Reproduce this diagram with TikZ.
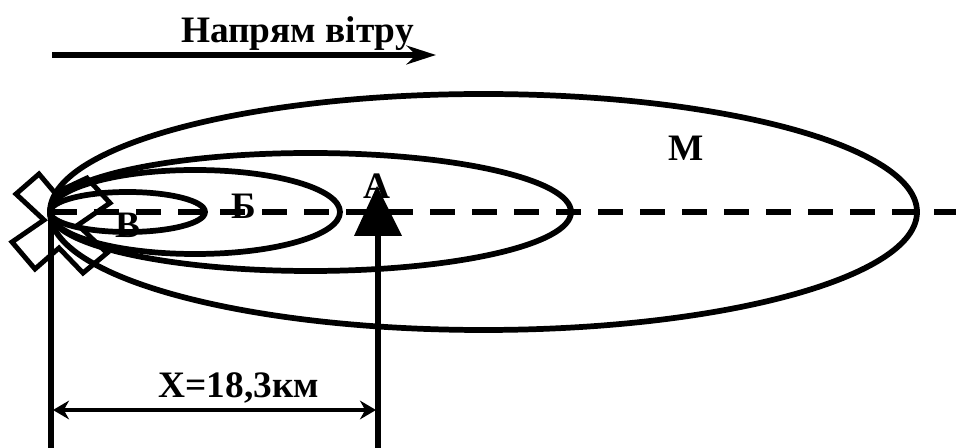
\documentclass[tikz,border=0pt]{standalone}
\usepackage{fontspec}
\setmainfont{Liberation Serif}
\usetikzlibrary{arrows.meta}
\tikzset{
  px/.style={x=0.75pt,y=-0.75pt},
  heavy/.style={line width=4.5pt,black},
  lab/.style={inner sep=0pt,font=\bfseries\fontsize{28}{30}\selectfont},
  cloud/.style={line width=4.3pt,black},
  dashline/.style={line width=4.5pt,dash pattern=on 18.4pt off 13.1pt},
  dim/.style={line width=3.7pt,{Stealth[length=12pt,width=14pt]}-{Stealth[length=12pt,width=14pt]}}
}
\begin{document}
\begin{tikzpicture}[px]
\useasboundingbox (0,0) rectangle (956,448);
% points
\coordinate (windS) at (52,55);
\coordinate (windE) at (436,55);
\coordinate (axisS) at (52,212);
\coordinate (axisE) at (956,212);
\coordinate (srcTop) at (51,212);
\coordinate (srcBot) at (51,448);
\coordinate (triBase) at (378,236);
\coordinate (tgtBot) at (378,448);
\coordinate (dimL) at (53,410);
\coordinate (dimR) at (376,410);
% axis
\draw[dashline] (axisS) -- (axisE);
% zones
\draw[cloud] (483.5,212) ellipse [x radius=433.5,y radius=118];
\draw[cloud] (310.5,212) ellipse [x radius=260.5,y radius=59];
\draw[cloud] (195,212) ellipse [x radius=145,y radius=42];
\draw[cloud] (127.5,212) ellipse [x radius=77.5,y radius=20];
% source cross
\draw[line width=3.7pt,line join=miter] (39,174) -- (55,193) -- (87,178) -- (110,203) -- (78,225) -- (107,253) -- (83,273) -- (59,248) -- (35,269) -- (12,242) -- (44,220) -- (16,194) -- cycle;
% target
\fill[black] (377,186) -- (402,236) -- (354,236) -- cycle;
\draw[heavy] (triBase) -- (tgtBot);
\draw[heavy] (srcTop) -- (srcBot);
\draw[dim] (dimL) -- (dimR);
\draw[line width=4.8pt,-{Stealth[length=22pt,width=14pt,inset=7pt]}] (windS) -- (windE);
% labels
\node[lab,anchor=center] (title) at (297.5,34) {Напрям вітру};
\node[lab,anchor=center] (dist) at (239,388) {X=18,3км};
\node[lab,anchor=center] (m) at (686,148) {М};
\node[lab,anchor=center] (b) at (244,206) {Б};
\node[lab,anchor=center] (v) at (128,225) {В};
\node[lab,anchor=center] (a) at (377,186) {А};
\end{tikzpicture}
\end{document}
